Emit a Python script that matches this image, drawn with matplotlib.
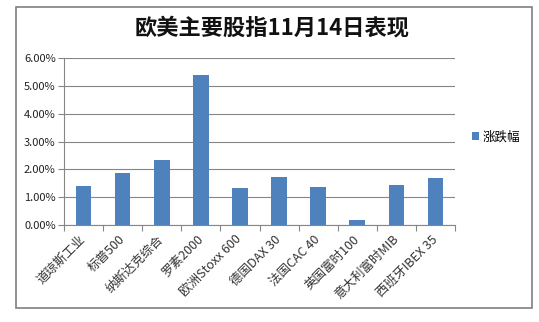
import matplotlib
matplotlib.use('Agg')
import matplotlib.pyplot as plt
from matplotlib.patches import Rectangle
from matplotlib.ticker import FuncFormatter, MultipleLocator
import numpy as np

plt.rcParams['font.family'] = ['Noto Sans CJK SC', 'DejaVu Sans']

# 欧美主要股指 11月14日 涨跌幅 (%)
indices = ['道琼斯工业', '标普500', '纳斯达克综合', '罗素2000', '欧洲Stoxx 600',
           '德国DAX 30', '法国CAC 40', '英国富时100', '意大利富时MIB', '西班牙IBEX 35']
changes = [1.40, 1.86, 2.34, 5.40, 1.34, 1.73, 1.38, 0.18, 1.44, 1.69]
series_name = '涨跌幅'
title = '欧美主要股指11月14日表现'

bar_color = '#4F81BD'
grid_color = '#868686'

fig = plt.figure(figsize=(5.39, 3.22), dpi=100)

# outer chart frame
frame = Rectangle((16 / 539, 1 - 308 / 322), (532 - 16) / 539, (308 - 7) / 322,
                  transform=fig.transFigure, fill=False, edgecolor='#7f7f7f', linewidth=1.2)
fig.patches.append(frame)

ax = fig.add_axes([64 / 539, 1 - 225 / 322, (455 - 64) / 539, (225 - 58) / 322])

x = np.arange(len(indices))
ax.bar(x, changes, width=0.4, color=bar_color, zorder=3, label=series_name)

ax.set_xlim(-0.5, len(indices) - 0.5)
ax.set_ylim(0, 6)
ax.yaxis.set_major_locator(MultipleLocator(1))
ax.yaxis.set_major_formatter(FuncFormatter(lambda v, p: '%.2f%%' % v))
ax.grid(axis='y', color=grid_color, linewidth=0.8, zorder=0)

# category ticks at boundaries, labels centred on the bars
ax.set_xticks(np.arange(-0.5, len(indices)), minor=False)
ax.set_xticklabels([])
ax.set_xticks(x, minor=True)
ax.set_xticklabels(indices, minor=True, rotation=45, ha='right', va='center',
                   rotation_mode='anchor', fontsize=9, color='#333333')
ax.tick_params(axis='x', which='minor', length=0, pad=9)
ax.tick_params(axis='x', which='major', length=4, color=grid_color, direction='out')
ax.tick_params(axis='y', length=4, color=grid_color, labelsize=8, labelcolor='#222222', pad=2)

for side in ['top', 'right']:
    ax.spines[side].set_visible(False)
for side in ['left', 'bottom']:
    ax.spines[side].set_color(grid_color)
    ax.spines[side].set_linewidth(0.8)

fig.text(272 / 539, 1 - 28 / 322, title, ha='center', va='center',
         fontsize=16, fontweight='bold', color='#111111')

ax.legend(loc='center left', bbox_to_anchor=(1.03, (225 - 137) / (225 - 58)),
          frameon=False, fontsize=9, handlelength=0.6, handleheight=0.6,
          handletextpad=0.3, borderaxespad=0)

fig.savefig('out.png', dpi=100)
